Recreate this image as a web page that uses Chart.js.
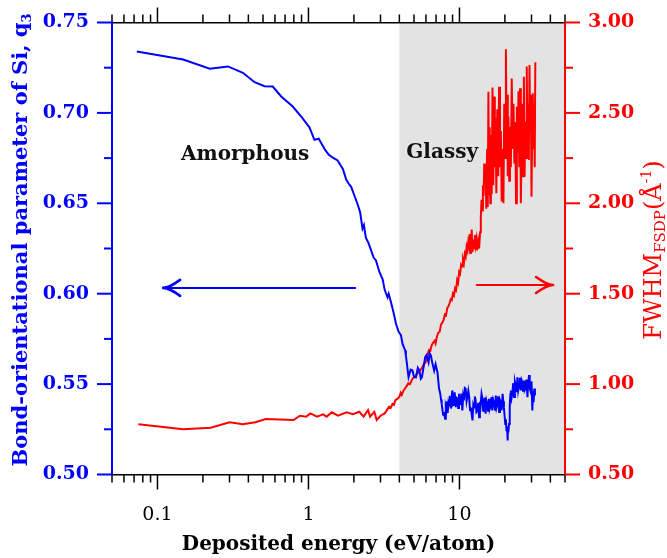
<!DOCTYPE html>
<html><head><meta charset="utf-8">
<script src="https://cdn.jsdelivr.net/npm/chart.js@4/dist/chart.umd.min.js"></script>
<style>html,body{margin:0;padding:0;background:#fff}canvas{display:block}</style>
</head><body>
<canvas id="c" width="667" height="558"></canvas>
<script>
// ---- data ----
const q3Energy = [0.073,0.148,0.222,0.293,0.368,0.44,0.512,0.58,0.66,0.787,0.895,1.015,1.095,1.17,1.29,1.36,1.45,1.56,1.69,1.78,1.85,1.92,2.0,2.13,2.2,2.28,2.33,2.4,2.5,2.6,2.7,2.8,2.95,3.1,3.2,3.34,3.4,3.52,3.65,3.8,3.95,4.1,4.2,4.37,4.42,4.6,4.75,4.89,5.0,5.15,5.3,5.42,5.55,5.64,5.8,5.93,6.05,6.24,6.35,6.47,6.6,6.8,6.95,7.15,
  7.33,7.45,7.55,7.63,7.72,7.8,7.9,8.03,8.12,8.2,8.28,8.35,8.45,8.53,8.62,8.7,8.78,8.85,8.92,8.98,9.08,9.2,9.3,9.45,9.55,9.7,9.8,9.93,10.05,10.2,10.3,10.45,10.58,10.7,10.85,11.0,11.15,11.3,11.45,11.6,11.75,11.9,12.05,12.2,12.35,12.5,12.65,12.8,12.95,13.1,13.3,13.5,13.65,13.8,14.0,14.2,14.35,14.5,14.7,14.9,15.1,15.3,15.5,15.7,15.9,16.1,16.3,16.5,16.75,17.0,17.2,17.4,17.6,17.8,18.05,18.3,18.55,18.8,19.05,19.3,19.5,19.7,19.9,20.1,20.3,20.5,20.65,20.8,20.95,21.1,21.3,21.45,21.6,21.75,21.9,22.15,22.4,22.7,23.0,23.3,23.6,23.9,24.2,24.5,24.8,25.1,25.5,25.8,26.1,26.4,26.8,27.1,27.5,27.8,28.2,28.5,28.9,29.2,29.6,30.0,30.4,30.7,31.0,31.3,31.6];
const q3Values = [0.734,0.7295,0.7244,0.7257,0.7222,0.717,0.7148,0.7146,0.7091,0.7035,0.698,0.692,0.6851,0.6857,0.6795,0.677,0.6752,0.6737,0.669,0.663,0.6608,0.659,0.655,0.6488,0.645,0.636,0.638,0.631,0.628,0.624,0.620,0.6184,0.612,0.608,0.602,0.598,0.600,0.5953,0.590,0.5834,0.579,0.577,0.5722,0.5686,0.5658,0.5538,0.558,0.5575,0.554,0.5538,0.559,0.5575,0.553,0.5538,0.560,0.5649,0.566,0.5621,0.567,0.5658,0.562,0.5575,0.561,0.5566,
  0.5474,0.545,0.5415,0.5391,0.5355,0.533,0.5345,0.5308,0.5375,0.536,0.5405,0.534,0.5395,0.5382,0.5435,0.541,0.5365,0.538,0.5448,0.5465,0.5385,0.540,0.5455,0.5372,0.5425,0.542,0.5368,0.5446,0.5392,0.539,0.5448,0.5354,0.5432,0.541,0.5478,0.5474,0.5405,0.543,0.5462,0.5428,0.5355,0.537,0.5335,0.5299,0.5385,0.537,0.5432,0.541,0.5345,0.535,0.5395,0.5317,0.5402,0.538,0.5445,0.5418,0.5352,0.537,0.5425,0.5336,0.5408,0.539,0.5348,0.5418,0.5365,0.538,0.5428,0.5354,0.5415,0.540,0.5358,0.5437,0.5372,0.539,0.5432,0.5345,0.5412,0.540,0.5355,0.5446,0.5405,0.537,0.5325,0.528,0.5305,0.524,0.5265,0.5188,0.5225,0.524,0.528,0.5345,0.538,0.5445,0.5465,0.5425,0.545,0.5505,0.5428,0.5512,0.549,0.5455,0.5538,0.5465,0.549,0.5535,0.5465,0.5522,0.551,0.5458,0.552,0.5468,0.548,0.5525,0.5428,0.550,0.555,0.5478,0.546,0.5515,0.5354,0.5462,0.540,0.5475,0.5437];

const fwhmEnergy = [0.0747,0.148,0.225,0.301,0.366,0.445,0.522,0.797,0.877,0.967,1.03,1.14,1.25,1.32,1.43,1.57,1.79,1.97,2.17,2.32,2.48,2.56,2.73,2.83,3.0,3.2,3.42,
  3.5,3.6,3.68,3.77,3.88,4.0,4.08,4.15,4.25,4.37,4.48,4.58,4.7,4.84,4.95,5.1,5.25,5.4,5.5,5.65,5.8,5.95,6.1,6.2,6.3,6.42,6.55,6.7,6.85,6.95,7.1,7.25,7.4,7.55,7.7,7.85,8.0,8.15,8.3,8.45,8.6,8.75,8.9,9.05,9.2,9.35,9.5,9.65,9.8,9.95,10.1,10.25,10.4,10.55,10.7,10.85,11.0,11.15,11.3,11.45,11.6,11.75,11.9,12.05,12.2,12.35,12.5,12.65,12.8,12.95,13.1,13.3,13.5,13.7,13.85,
  14.0,14.15,14.3,14.45,14.6,14.75,14.9,15.05,15.25,15.4,15.55,15.7,15.85,16.0,16.15,16.35,16.55,16.75,16.95,17.15,17.35,17.55,17.8,18.05,18.3,18.55,18.8,19.05,19.3,19.55,19.8,20.05,20.3,20.5,20.7,20.9,21.1,21.35,21.6,21.9,22.2,22.5,22.8,23.1,23.4,23.7,24.0,24.3,24.6,24.9,25.2,25.5,25.8,26.1,26.4,26.7,27.0,27.3,27.6,27.9,28.2,28.5,28.8,29.1,29.4,29.7,30.0,30.3,30.6,30.9,31.2,31.5,31.8];
const fwhmValues = [0.778,0.75,0.759,0.789,0.778,0.789,0.807,0.801,0.825,0.82,0.838,0.82,0.833,0.82,0.844,0.825,0.844,0.833,0.847,0.82,0.857,0.82,0.847,0.801,0.825,0.838,0.875,
  0.868,0.89,0.885,0.912,0.918,0.93,0.952,0.94,0.962,0.977,0.99,1.004,1.00,1.023,1.035,1.04,1.06,1.065,1.078,1.09,1.11,1.118,1.143,1.175,1.19,1.185,1.216,1.23,1.24,1.225,1.265,1.285,1.29,1.33,1.34,1.355,1.385,1.38,1.42,1.43,1.447,1.47,1.465,1.50,1.49,1.53,1.52,1.575,1.56,1.62,1.61,1.66,1.65,1.69,1.67,1.72,1.705,1.76,1.74,1.79,1.76,1.83,1.72,1.855,1.73,1.80,1.75,1.825,1.77,1.80,1.74,1.79,1.75,1.84,1.92,
  2.02,1.96,2.10,2.04,2.22,2.15,2.20,1.97,2.30,1.98,2.617,2.05,2.42,2.00,2.378,2.05,2.64,2.10,2.59,2.20,2.47,2.055,2.52,2.15,2.645,2.20,2.40,2.01,2.30,2.0,2.55,2.25,2.852,2.40,2.60,2.15,2.48,2.125,2.424,2.20,2.69,2.30,2.55,2.22,2.45,2.0,2.534,2.28,2.62,2.2,2.636,2.0,2.313,2.55,2.15,2.70,2.147,2.45,2.25,2.756,2.30,2.55,2.24,2.765,2.4,2.60,2.036,2.40,2.608,2.3,2.55,2.20,2.78];

const xMajorTicks = [0.1, 1, 10];
const xTickLabels = ['0.1', '1', '10'];
const xMinorTicks = [0.05,0.06,0.07,0.08,0.09,0.2,0.3,0.4,0.5,0.6,0.7,0.8,0.9,2,3,4,5,6,7,8,9,20,30,40,50];
const leftTicks = [0.50,0.55,0.60,0.65,0.70,0.75];
const leftMinorTicks = [0.525,0.575,0.625,0.675,0.725];
const rightTicks = [0.5,1.0,1.5,2.0,2.5,3.0];
const rightMinorTicks = [0.75,1.25,1.75,2.25,2.75];
const glassyRange = [4, 50];

const BLUE = '#0000ff', RED = '#ff0000';
const SERIF = '"DejaVu Serif", serif';

function line(ctx, x0, y0, x1, y1) { ctx.beginPath(); ctx.moveTo(x0, y0); ctx.lineTo(x1, y1); ctx.stroke(); }
function arrow(ctx, x0, y0, x1, y1, color) {
  ctx.save();
  ctx.strokeStyle = color; ctx.lineWidth = 2; ctx.lineCap = 'round'; ctx.lineJoin = 'round';
  line(ctx, x0, y0, x1, y1);
  const a = Math.atan2(y1 - y0, x1 - x0), L = 17, W = 8;
  ctx.lineWidth = 2.6;
  ctx.beginPath();
  ctx.moveTo(x1 - L * Math.cos(a) + W * Math.sin(a), y1 - L * Math.sin(a) - W * Math.cos(a));
  ctx.quadraticCurveTo(x1 - 6 * Math.cos(a), y1 - 6 * Math.sin(a), x1, y1);
  ctx.quadraticCurveTo(x1 - 6 * Math.cos(a), y1 - 6 * Math.sin(a), x1 - L * Math.cos(a) - W * Math.sin(a), y1 - L * Math.sin(a) + W * Math.cos(a));
  ctx.stroke();
  ctx.restore();
}
function pieces(ctx, parts) {
  let w = 0;
  parts.forEach(p => { ctx.font = p[1]; p.w = ctx.measureText(p[0]).width; w += p.w; });
  let x = -w / 2;
  parts.forEach(p => { ctx.font = p[1]; ctx.fillText(p[0], x, p[2]); x += p.w; });
}

const deco = {
  id: 'deco',
  beforeDraw(chart) {
    const { ctx, chartArea: a, scales: { x } } = chart;
    const x0 = x.getPixelForValue(glassyRange[0]);
    const x1 = x.getPixelForValue(glassyRange[1]);
    ctx.save();
    ctx.fillStyle = '#e3e3e3';
    ctx.fillRect(x0, a.top, x1 - x0, a.bottom - a.top);
    ctx.restore();
  },
  afterDraw(chart) {
    const { ctx, chartArea: a, scales: { x, y, y2 } } = chart;
    ctx.save();
    ctx.lineWidth = 1.5; ctx.strokeStyle = '#000';
    xMajorTicks.forEach(v => { const p = x.getPixelForValue(v); line(ctx, p, a.bottom, p, a.bottom + 15); line(ctx, p, a.top, p, a.top - 15); });
    xMinorTicks.forEach(v => { const p = x.getPixelForValue(v); line(ctx, p, a.bottom, p, a.bottom + 8); line(ctx, p, a.top, p, a.top - 8); });
    ctx.lineWidth = 2; ctx.strokeStyle = BLUE;
    leftTicks.forEach(v => { const p = y.getPixelForValue(v); line(ctx, a.left, p, a.left - 15, p); });
    leftMinorTicks.forEach(v => { const p = y.getPixelForValue(v); line(ctx, a.left, p, a.left - 8, p); });
    ctx.strokeStyle = RED;
    rightTicks.forEach(v => { const p = y2.getPixelForValue(v); line(ctx, a.right, p, a.right + 15, p); });
    rightMinorTicks.forEach(v => { const p = y2.getPixelForValue(v); line(ctx, a.right, p, a.right + 8, p); });

    ctx.fillStyle = '#111'; ctx.textAlign = 'center'; ctx.textBaseline = 'middle';
    ctx.font = 'bold 20px ' + SERIF;
    ctx.fillText('Amorphous', x.getPixelForValue(0.381), y.getPixelForValue(0.6767));
    ctx.fillText('Glassy', x.getPixelForValue(7.68), y.getPixelForValue(0.6778));

    arrow(ctx, x.getPixelForValue(2.04), y.getPixelForValue(0.6032), x.getPixelForValue(0.109), y.getPixelForValue(0.6032), BLUE);
    arrow(ctx, x.getPixelForValue(13.0), y2.getPixelForValue(1.548), x.getPixelForValue(41.7), y2.getPixelForValue(1.548), RED);

    ctx.textAlign = 'left'; ctx.textBaseline = 'alphabetic';
    ctx.fillStyle = '#000';
    ctx.save(); ctx.translate((a.left + a.right) / 2, 550);
    pieces(ctx, [['Deposited energy (eV/atom)', 'bold 20px ' + SERIF, 0]]);
    ctx.restore();

    ctx.fillStyle = BLUE;
    ctx.save(); ctx.translate(27, 240); ctx.rotate(-Math.PI / 2);
    pieces(ctx, [['Bond-orientational parameter of Si, q', 'bold 21px ' + SERIF, 0], ['3', 'bold 13px ' + SERIF, 4]]);
    ctx.restore();

    ctx.fillStyle = RED;
    ctx.save(); ctx.translate(661, 250); ctx.rotate(-Math.PI / 2);
    pieces(ctx, [['FWHM', '24px ' + SERIF, 0], ['FSDP', '15px ' + SERIF, 4], ['(Å', '24px ' + SERIF, 0], ['-1', '14px ' + SERIF, -10], [')', '24px ' + SERIF, 0]]);
    ctx.restore();
    ctx.restore();
  }
};

const hiddenTicks = { display: true, drawOnChartArea: false, drawTicks: true, tickLength: 15, tickColor: 'rgba(0,0,0,0)' };

new Chart(document.getElementById('c').getContext('2d'), {
  type: 'line',
  data: {
    datasets: [
      { label: 'q3', data: q3Energy.map((e, i) => ({ x: e, y: q3Values[i] })), borderColor: BLUE, borderWidth: 2, pointRadius: 0, tension: 0, xAxisID: 'x', yAxisID: 'y' },
      { label: 'FWHM', data: fwhmEnergy.map((e, i) => ({ x: e, y: fwhmValues[i] })), borderColor: RED, borderWidth: 2, pointRadius: 0, tension: 0, xAxisID: 'x', yAxisID: 'y2' }
    ]
  },
  options: {
    responsive: false, animation: false, devicePixelRatio: 1,
    layout: { padding: 0 },
    plugins: { legend: { display: false }, tooltip: { enabled: false } },
    scales: {
      x: {
        type: 'logarithmic', position: 'bottom', min: 0.05, max: 50,
        afterFit(s) { s.height = 83.5; },
        afterBuildTicks(s) { s.ticks = xMajorTicks.map(v => ({ value: v })); },
        ticks: { autoSkip: false, maxRotation: 0, padding: 14, color: '#000', font: { family: SERIF, size: 19 }, callback: (v, i) => xTickLabels[i] },
        grid: hiddenTicks,
        border: { display: true, color: '#000', width: 1.5 }
      },
      x2: {
        type: 'logarithmic', position: 'top', min: 0.05, max: 50,
        afterFit(s) { s.height = 22.5; },
        ticks: { display: false },
        grid: { display: true, drawOnChartArea: false, drawTicks: false },
        border: { display: true, color: '#000', width: 1.5 }
      },
      y: {
        type: 'linear', position: 'left', min: 0.5, max: 0.75,
        afterFit(s) { s.width = 112; },
        afterBuildTicks(s) { s.ticks = leftTicks.map(v => ({ value: v })); },
        ticks: { padding: 8, color: BLUE, font: { family: SERIF, size: 19, weight: 'bold' }, callback: v => Number(v).toFixed(2) },
        grid: hiddenTicks,
        border: { display: true, color: BLUE, width: 2 }
      },
      y2: {
        type: 'linear', position: 'right', min: 0.5, max: 3.0,
        afterFit(s) { s.width = 102; },
        afterBuildTicks(s) { s.ticks = rightTicks.map(v => ({ value: v })); },
        ticks: { padding: 8, color: RED, font: { family: SERIF, size: 19, weight: 'bold' }, callback: v => Number(v).toFixed(2) },
        grid: hiddenTicks,
        border: { display: true, color: RED, width: 2 }
      }
    }
  },
  plugins: [deco]
});
</script>
</body></html>
